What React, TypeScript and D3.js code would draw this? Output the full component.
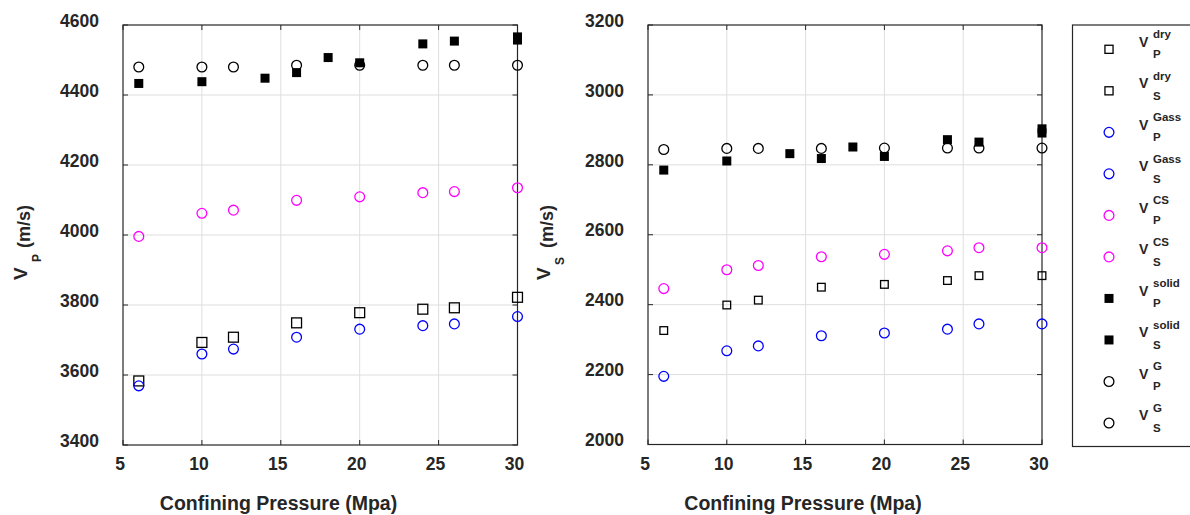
import React from 'react';
import * as d3 from 'd3';

// confining pressure (MPa) for the measured points
const pressure = [6, 10, 12, 16, 20, 24, 26, 30];
const solidPressure = [6, 10, 14, 16, 18, 20, 24, 26, 30, 30];

// P-wave velocities (m/s)
const vpDry = [3583, 3693, 3708, 3749, 3778, 3788, 3792, 3822];
const vpGass = [3569, 3660, 3674, 3708, 3731, 3741, 3746, 3767];
const vpCS = [3996, 4062, 4071, 4099, 4109, 4121, 4124, 4135];
const vpSolid = [4433, 4438, 4448, 4464, 4507, 4492, 4546, 4554, 4557, 4566];
const vpG = [4480, 4480, 4480, 4485, 4485, 4485, 4485, 4485];

// S-wave velocities (m/s)
const vsDry = [2326, 2399, 2413, 2450, 2458, 2469, 2483, 2483];
const vsGass = [2195, 2268, 2282, 2311, 2319, 2330, 2345, 2345];
const vsCS = [2446, 2500, 2512, 2537, 2544, 2554, 2563, 2563];
const vsSolid = [2785, 2811, 2832, 2818, 2851, 2824, 2872, 2865, 2891, 2903];
const vsG = [2844, 2847, 2847, 2847, 2848, 2848, 2848, 2848];

const xTicks = [5, 10, 15, 20, 25, 30];
const vpTicks = [3400, 3600, 3800, 4000, 4200, 4400, 4600];
const vsTicks = [2000, 2200, 2400, 2600, 2800, 3000, 3200];

const legendItems = [
  { sup: 'dry', sub: 'P', kind: 'square' },
  { sup: 'dry', sub: 'S', kind: 'square' },
  { sup: 'Gass', sub: 'P', kind: 'blue' },
  { sup: 'Gass', sub: 'S', kind: 'blue' },
  { sup: 'CS', sub: 'P', kind: 'magenta' },
  { sup: 'CS', sub: 'S', kind: 'magenta' },
  { sup: 'solid', sub: 'P', kind: 'solid' },
  { sup: 'solid', sub: 'S', kind: 'solid' },
  { sup: 'G', sub: 'P', kind: 'circle' },
  { sup: 'G', sub: 'S', kind: 'circle' },
];

const FONT = '"Liberation Sans", Arial, Helvetica, sans-serif';
const INK = '#262626';
const GRID = '#dedede';

function Marker({ kind, x, y, size = 1 }) {
  if (kind === 'square')
    return <rect x={x - 4.5 * size} y={y - 4.5 * size} width={9 * size} height={9 * size} fill="none" stroke="#000" strokeWidth={1.3} />;
  if (kind === 'solid')
    return <rect x={x - 4.5} y={y - 4.5} width={9} height={9} fill="#000" />;
  const color = kind === 'blue' ? '#0000ff' : kind === 'magenta' ? '#ff00ff' : '#000';
  return <circle cx={x} cy={y} r={4.9} fill="none" stroke={color} strokeWidth={1.3} />;
}

function Panel({ left, right, top, bottom, yTicks, dry, gass, cs, solid, g, drySize, sub, labelX, titleCx }) {
  const x = d3.scaleLinear().domain([5, 30]).range([left, right]);
  const y = d3.scaleLinear().domain([yTicks[0], yTicks[yTicks.length - 1]]).range([bottom, top]);
  const tk = 5;
  return (
    <g fontFamily={FONT} fontWeight="bold" fill={INK}>
      {xTicks.slice(1, -1).map((t) => (
        <line key={'gx' + t} x1={x(t)} x2={x(t)} y1={top} y2={bottom} stroke={GRID} />
      ))}
      {yTicks.slice(1, -1).map((t) => (
        <line key={'gy' + t} x1={left} x2={right} y1={y(t)} y2={y(t)} stroke={GRID} />
      ))}
      {xTicks.map((t) => (
        <g key={'tx' + t} stroke={INK}>
          <line x1={x(t)} x2={x(t)} y1={bottom} y2={bottom - tk} />
          <line x1={x(t)} x2={x(t)} y1={top} y2={top + tk} />
        </g>
      ))}
      {yTicks.map((t) => (
        <g key={'ty' + t} stroke={INK}>
          <line x1={left} x2={left + tk} y1={y(t)} y2={y(t)} />
          <line x1={right} x2={right - tk} y1={y(t)} y2={y(t)} />
        </g>
      ))}
      <rect x={left} y={top} width={right - left} height={bottom - top} fill="none" stroke={INK} strokeWidth={1.2} />
      {xTicks.map((t) => (
        <text key={'lx' + t} x={x(t) - 3} y={bottom + 25} textAnchor="middle" fontSize={17.5}>{t}</text>
      ))}
      {yTicks.map((t) => (
        <text key={'ly' + t} x={left - 24} y={y(t) + 1.7} textAnchor="end" fontSize={17.5}>{t}</text>
      ))}
      <text x={titleCx} y={510} textAnchor="middle" fontSize={19.5}>Confining Pressure (Mpa)</text>
      <text transform={`translate(${labelX},280) rotate(-90)`} fontSize={19}>V</text>
      <text transform={`translate(${labelX + 14},${sub === 'P' ? 262 : 265}) rotate(-90)`} fontSize={12}>{sub}</text>
      <text transform={`translate(${labelX + 3},248) rotate(-90)`} fontSize={18}>(m/s)</text>
      {dry.map((v, i) => <Marker key={'d' + i} kind="square" x={x(pressure[i])} y={y(v)} size={drySize} />)}
      {gass.map((v, i) => <Marker key={'b' + i} kind="blue" x={x(pressure[i])} y={y(v)} />)}
      {cs.map((v, i) => <Marker key={'m' + i} kind="magenta" x={x(pressure[i])} y={y(v)} />)}
      {solid.map((v, i) => <Marker key={'s' + i} kind="solid" x={x(solidPressure[i])} y={y(v)} />)}
      {g.map((v, i) => <Marker key={'g' + i} kind="circle" x={x(pressure[i])} y={y(v)} />)}
    </g>
  );
}

function Legend() {
  const rowY = d3.scaleLinear().domain([0, legendItems.length - 1]).range([49.3, 423]);
  return (
    <g fontFamily={FONT} fontWeight="bold" fill={INK}>
      <rect x={1072.5} y={25} width={140} height={421.5} fill="#fff" stroke={INK} strokeWidth={1.2} />
      {legendItems.map((d, i) => {
        const cy = rowY(i);
        return (
          <g key={i}>
            <Marker kind={d.kind} x={1109} y={cy} size={0.9} />
            <text x={1139} y={cy - 2.6} fontSize={14}>V</text>
            <text x={1153} y={cy - 11} fontSize={11.5}>{d.sup}</text>
            <text x={1153} y={cy + 9} fontSize={11.5}>{d.sub}</text>
          </g>
        );
      })}
    </g>
  );
}

export default function App() {
  return (
    <svg width={1190} height={515} style={{ position: 'absolute', left: 0, top: 0, background: '#fff' }}>
      <Panel left={123} right={517.5} top={25} bottom={445} yTicks={vpTicks}
        dry={vpDry} gass={vpGass} cs={vpCS} solid={vpSolid} g={vpG}
        drySize={1.1} sub="P" labelX={27} titleCx={278.5} />
      <Panel left={648} right={1042} top={25} bottom={444.5} yTicks={vsTicks}
        dry={vsDry} gass={vsGass} cs={vsCS} solid={vsSolid} g={vsG}
        drySize={0.85} sub="S" labelX={550} titleCx={803} />
      <Legend />
    </svg>
  );
}
